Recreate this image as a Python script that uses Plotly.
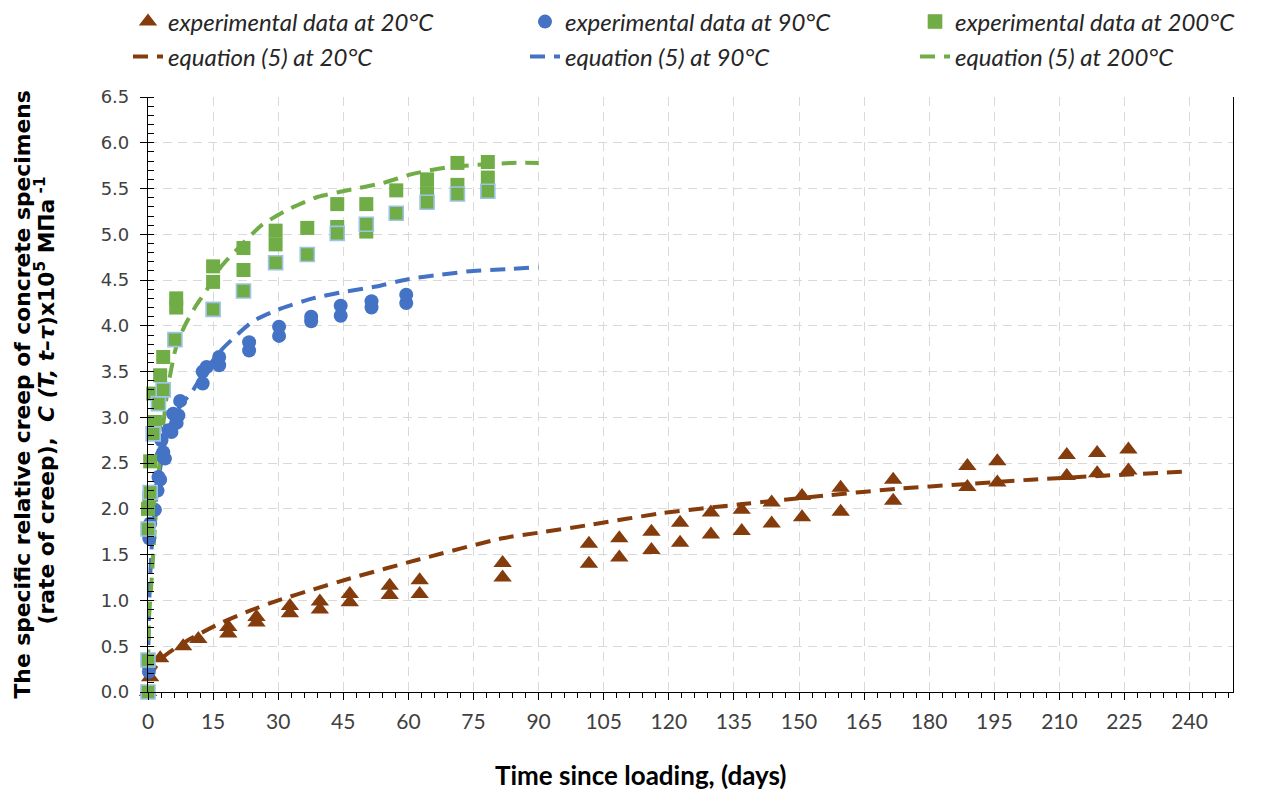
import plotly.graph_objects as go

# ---------------- data ----------------
# 20 °C experimental data (days, creep)
exp20_t = [0, 0.5, 2.8, 8.1, 11.6, 18.5, 18.5, 25, 25, 32.7, 32.7, 39.6, 39.6,
           46.5, 46.5, 55.7, 55.7, 62.6, 62.6, 81.7, 81.7,
           101.6, 101.6, 108.6, 108.6, 116.0, 116.0, 122.6, 122.6, 129.7, 129.7,
           136.8, 136.8, 143.7, 143.7, 150.7, 150.7, 159.6, 159.6, 171.7, 171.7,
           188.8, 188.8, 195.7, 195.7, 211.7, 211.7, 218.7, 218.7, 225.9, 225.9]
exp20_c = [0.0, 0.16, 0.37, 0.50, 0.58, 0.64, 0.71, 0.76, 0.82, 0.86, 0.94, 0.90, 0.99,
           0.98, 1.07, 1.06, 1.16, 1.07, 1.22, 1.25, 1.41,
           1.40, 1.62, 1.47, 1.68, 1.55, 1.75, 1.63, 1.85, 1.72, 1.96,
           1.76, 1.99, 1.84, 2.07, 1.91, 2.14, 1.97, 2.23, 2.09, 2.32,
           2.24, 2.47, 2.29, 2.52, 2.36, 2.59, 2.39, 2.61, 2.42, 2.65]

# 90 °C experimental data
exp90_t = [0.2, 0.2, 0.3, 0.5, 1.6, 2.2, 2.4, 2.8, 3.1, 3.5, 3.9, 3.1, 4.7, 5.4,
           5.8, 6.6, 7.4, 7.0, 12.6, 12.6, 13.5, 16.4, 16.4, 23.3, 23.3,
           30.2, 30.2, 37.6, 37.6, 44.4, 44.4, 51.5, 51.5, 59.5, 59.5]
exp90_c = [0.22, 0.28, 1.68, 1.84, 1.99, 2.20, 2.35, 2.32, 2.58, 2.62, 2.55, 2.75, 2.86, 2.84,
           3.04, 2.94, 3.18, 3.02, 3.37, 3.50, 3.55, 3.57, 3.66, 3.73, 3.82,
           3.89, 3.99, 4.05, 4.10, 4.11, 4.22, 4.20, 4.27, 4.25, 4.34]

# 200 °C experimental data (two specimen sets: plain and outlined markers)
exp200_t = [0, 0.3, 0.5, 1.6, 1.2, 2.8, 3.5, 6.5, 6.5,
            15, 15, 22, 22, 29.4, 29.4, 36.7, 43.6, 43.6, 50.3, 50.3,
            57.2, 64.3, 64.3, 71.3, 71.3, 78.3, 78.3,
            0, 0, 0, 0.5, 1.2, 2.4, 3.5, 6.2, 15, 22, 29.4, 36.7, 43.6,
            50.3, 57.2, 64.3, 71.3, 78.3]
exp200_c = [2.0, 2.12, 2.52, 2.95, 3.26, 3.46, 3.66, 4.20, 4.30,
            4.48, 4.65, 4.61, 4.85, 4.89, 5.04, 5.07, 5.08, 5.33, 5.03, 5.33,
            5.48, 5.45, 5.60, 5.54, 5.78, 5.62, 5.79,
            0.0, 0.35, 1.78, 2.18, 2.82, 3.15, 3.30, 3.85, 4.18, 4.38, 4.69, 4.78, 5.01,
            5.11, 5.23, 5.35, 5.44, 5.47]
exp200_outlined = [False] * 27 + [True] * 18

# equation (5) curves
eq20_t = [0, 3.5, 9, 16.6, 23.5, 30, 38, 46.5, 62.6, 81.7, 90, 102.4, 117.9,
          136.4, 157, 172.5, 188, 203.5, 219, 240]
eq20_c = [0.15, 0.38, 0.56, 0.75, 0.89, 1.0, 1.12, 1.24, 1.45, 1.68, 1.74, 1.83, 1.95,
          2.05, 2.15, 2.22, 2.27, 2.32, 2.36, 2.41]

eq90_t = [0, 0.3, 0.8, 1.5, 2.5, 4, 6, 8, 10, 13, 16.6, 18.9, 24.2, 30.7, 38, 45,
          52.6, 59.9, 67.6, 74.9, 82.5, 90]
eq90_c = [0.25, 1.0, 1.55, 1.95, 2.35, 2.75, 3.02, 3.16, 3.27, 3.5, 3.72, 3.83, 4.05, 4.19,
          4.30, 4.37, 4.43, 4.51, 4.56, 4.60, 4.62, 4.64]

eq200_t = [0, 0.3, 0.8, 1.2, 2, 3, 4.5, 6.2, 7.5, 9, 11.2, 13.1, 16.9, 20.4, 26.2,
           32.7, 39.2, 44.9, 54.1, 61, 68.7, 76, 84, 90]
eq200_c = [0.3, 0.86, 1.2, 1.5, 2.1, 2.7, 3.3, 3.72, 3.9, 4.05, 4.23, 4.36, 4.65, 4.83, 5.10,
           5.28, 5.41, 5.47, 5.56, 5.66, 5.73, 5.76, 5.78, 5.78]

x_ticks = list(range(0, 241, 15))
y_ticks = [i * 0.5 for i in range(14)]

x_title = "<b>Time since loading, (days)</b>"
y_title_1 = "<b>The specific relative creep of concrete specimens</b>"
y_title_2 = "<b>(rate of creep),  <i>C (T, t–τ</i>)x10<sup>5</sup> MПa<sup> -1</sup></b>"

# ---------------- styling ----------------
BROWN = "#843C0C"
BLUE = "#4472C4"
GREEN = "#70AD47"
OUTLINE = "#9DC3E6"
DASH = "15px,9px"
LEG_FONT = dict(family="Lato, 'Open Sans', sans-serif", size=24, color="#262626", style="italic")

W, H = 1264, 790
OFF = 8                      # page body margin of the written html
ML, MT = 148 - OFF, 97 - OFF
PW, PH = 1085, 595
MR = W - ML - PW
MB = H - MT - PH

# legend slots: (legend id, left px of entry, centre px of row) in figure px
slots = {
    "legend":  (120, 14), "legend2": (517, 14), "legend3": (907, 14),
    "legend4": (120, 49), "legend5": (517, 49), "legend6": (907, 49),
}

fig = go.Figure()

# equation curves (drawn under markers)
for t, c, col, name, leg in [(eq20_t, eq20_c, BROWN, "equation (5) at 20°C", "legend4"),
                             (eq90_t, eq90_c, BLUE, "equation (5) at 90°C", "legend5"),
                             (eq200_t, eq200_c, GREEN, "equation (5) at 200°C", "legend6")]:
    fig.add_trace(go.Scatter(
        x=t, y=c, mode="lines", name=name, legend=leg,
        line=dict(color=col, width=4, dash=DASH, shape="spline", smoothing=0.6),
        cliponaxis=False))

fig.add_trace(go.Scatter(
    x=exp20_t, y=exp20_c, mode="markers", name="experimental data at 20°C",
    legend="legend", cliponaxis=False,
    marker=dict(symbol="triangle-up", size=16, color=BROWN, line=dict(width=0))))

fig.add_trace(go.Scatter(
    x=exp90_t, y=exp90_c, mode="markers", name="experimental data at 90°C",
    legend="legend2", cliponaxis=False,
    marker=dict(symbol="circle", size=14, color=BLUE, line=dict(width=0))))

fig.add_trace(go.Scatter(
    x=exp200_t, y=exp200_c, mode="markers", name="experimental data at 200°C",
    legend="legend3", cliponaxis=False,
    marker=dict(symbol="square", size=14, color=GREEN,
                line=dict(color=[OUTLINE if o else GREEN for o in exp200_outlined],
                          width=[1.6 if o else 0 for o in exp200_outlined]))))

axis_common = dict(
    showline=True, linecolor="black", linewidth=1.2, automargin=False,
    showgrid=True, gridcolor="#D9D9D9", gridwidth=1.3, griddash="9px,6px",
    zeroline=False, ticks="outside", tickcolor="black", ticklen=7, tickwidth=1,
)

legend_layout = {}
for key, (left, cy) in slots.items():
    legend_layout[key] = dict(
        orientation="h", xref="container", yref="container",
        x=left / W, y=1 - cy / H, xanchor="left", yanchor="middle",
        font=LEG_FONT, bgcolor="rgba(0,0,0,0)", borderwidth=0)

TITLE_FONT = dict(family="'DejaVu Sans', Verdana, sans-serif", size=21.8, color="black")

def px_x(ref_px):
    return (ref_px - OFF - ML) / PW

def px_y(ref_px):
    return 1 - (ref_px - OFF - MT) / PH

fig.update_layout(
    width=W, height=H,
    margin=dict(l=ML, r=MR, t=MT, b=MB, autoexpand=False),
    paper_bgcolor="white", plot_bgcolor="white",
    showlegend=True,
    **legend_layout,
    xaxis=dict(
        **axis_common,
        range=[0, 250], tickmode="array", tickvals=x_ticks,
        ticktext=[str(v) for v in x_ticks],
        tickfont=dict(family="Lato, sans-serif", size=21, color="#404040"),
        ticklabelstandoff=4,
        minor=dict(dtick=3, ticks="outside", ticklen=5, tickcolor="black", showgrid=False),
    ),
    yaxis=dict(
        **axis_common,
        mirror=True,
        range=[0, 6.5], tickmode="array", tickvals=y_ticks,
        ticktext=[f"{v:.1f}" for v in y_ticks],
        tickfont=dict(family="'DejaVu Sans', Verdana, sans-serif", size=18, color="#404040"),
        ticklabelstandoff=7,
        minor=dict(dtick=0.1, ticks="inside", ticklen=6, tickcolor="black", showgrid=False),
    ),
    annotations=[
        dict(text=x_title, xref="paper", yref="paper",
             x=px_x(640), y=px_y(775), xanchor="center", yanchor="middle",
             showarrow=False, font=dict(family="Lato, sans-serif", size=26, color="black")),
        dict(text=y_title_1, xref="paper", yref="paper", textangle=-90,
             x=px_x(22), y=0.5, xanchor="center", yanchor="middle",
             showarrow=False, font=TITLE_FONT),
        dict(text=y_title_2, xref="paper", yref="paper", textangle=-90,
             x=px_x(45), y=0.49, xanchor="center", yanchor="middle",
             showarrow=False, font=TITLE_FONT),
    ],
)

fig.write_html("out.html")
